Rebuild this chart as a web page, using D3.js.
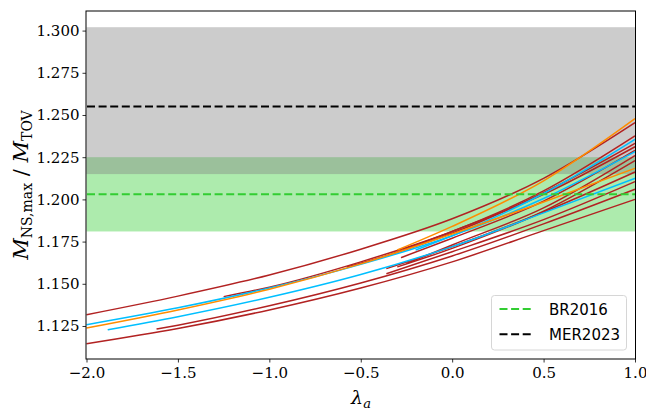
<!DOCTYPE html>
<html lang="en">
<head>
<meta charset="UTF-8">
<title>Maximum mass ratio vs lambda_a</title>
<script src="https://d3js.org/d3.v7.min.js"></script>
<style>
  body { margin: 0; background: #fff; }
  svg { display: block; }
  .tick text { font-family: "DejaVu Serif", serif; font-size: 15px; fill: #000; }
  .tick line { stroke: #000; stroke-width: 0.8px; }
</style>
</head>
<body>
<svg width="646" height="410"></svg>
<script>
// tick labels
const xTicks = [-2.0, -1.5, -1.0, -0.5, 0.0, 0.5, 1.0];
const yTicks = [1.125, 1.150, 1.175, 1.200, 1.225, 1.250, 1.275, 1.300];

// constraint bands and reference values
const greenBand = [1.181, 1.225];
const grayBand = [1.215, 1.302];
const refNames = ["BR2016", "MER2023"];
const refValues = [1.203, 1.255];
const refColors = ["#32cd32", "#000000"];

// curves as [lambda_a, M_NS,max / M_TOV]
const redCurves = [
    [[-2, 1.1317], [-1.5, 1.1427], [-1, 1.1552], [-0.5, 1.1705], [0, 1.1885], [0.5, 1.2125], [1, 1.2455]],
    [[-2, 1.1145], [-1.5, 1.1235], [-1, 1.1345], [-0.5, 1.1475], [0, 1.1630], [0.5, 1.1815], [1, 1.2000]],
    [[-1.617, 1.1232], [-1.5, 1.1255], [-1, 1.1370], [-0.5, 1.1505], [0, 1.1665], [0.5, 1.1855], [1, 1.2060]],
    [[-1.25, 1.1424], [-1, 1.1480], [-0.5, 1.1630], [0, 1.1810], [0.5, 1.2050], [1, 1.2376]],
    [[-0.575, 1.1600], [-0.5, 1.1622], [0, 1.1800], [0.5, 1.2040], [1, 1.2332]],
    [[-0.36, 1.1590], [0, 1.1720], [0.5, 1.1925], [1, 1.2162]],
    [[-0.36, 1.1560], [0, 1.1690], [0.5, 1.1880], [1, 1.2105]],
    [[-0.32, 1.1680], [0, 1.1810], [0.5, 1.2030], [1, 1.2312]],
    [[-0.28, 1.1655], [0, 1.1770], [0.5, 1.1990], [1, 1.2290]],
    [[-0.25, 1.1620], [0, 1.1730], [0.5, 1.1950], [1, 1.2260]],
    [[-0.30, 1.1600], [0, 1.1710], [0.5, 1.1930], [1, 1.2230]]
];
const blueCurves = [
    [[-2, 1.1258], [-1.5, 1.1358], [-1, 1.1475], [-0.5, 1.1615], [0, 1.1785], [0.5, 1.2005], [1, 1.2283]],
    [[-1.884, 1.1228], [-1.5, 1.1305], [-1, 1.1420], [-0.5, 1.1555], [0, 1.1720], [0.5, 1.1920], [1, 1.2125]],
    [[-0.20, 1.1700], [0, 1.1785], [0.5, 1.2035], [1, 1.2356]]
];
const orangeCurves = [
    [[-2, 1.1238], [-1.5, 1.1345], [-1, 1.1468], [-0.5, 1.1618], [0, 1.1795], [0.5, 1.1985], [1, 1.2184]],
    [[-0.30, 1.1700], [0, 1.1840], [0.5, 1.2110], [1, 1.2478]]
];

const svg = d3.select("svg");
const padLeft = 86, padRight = 635.5, padTop = 11, padBottom = 359;

const x = d3.scaleLinear().domain([-2.0, 1.0]).range([padLeft + 0.5, padRight - 0.5]);
const y = d3.scaleLinear().domain([1.10545, 1.3116]).range([padBottom, padTop]);

const plot = svg.append("g");

// bands (green first, gray on top; they overlap a little)
plot.append("rect")
    .attr("x", x(-2)).attr("width", x(1) - x(-2))
    .attr("y", y(greenBand[1])).attr("height", y(greenBand[0]) - y(greenBand[1]))
    .attr("fill", "rgb(50,205,50)").attr("fill-opacity", 0.4);
plot.append("rect")
    .attr("x", x(-2)).attr("width", x(1) - x(-2))
    .attr("y", y(grayBand[1])).attr("height", y(grayBand[0]) - y(grayBand[1]))
    .attr("fill", "rgb(128,128,128)").attr("fill-opacity", 0.4);

// curves
const line = d3.line()
    .x(d => x(d[0]))
    .y(d => y(d[1]))
    .curve(d3.curveMonotoneX);

function drawCurves(list, color) {
    plot.selectAll(null)
        .data(list)
        .enter()
        .append("path")
        .attr("d", line)
        .attr("fill", "none")
        .attr("stroke", color)
        .attr("stroke-width", 1.5);
}
drawCurves(redCurves, "#b22222");
drawCurves(blueCurves, "#00bfff");
drawCurves(orangeCurves, "#ff8c00");

// reference lines
plot.selectAll(null)
    .data(refValues)
    .enter()
    .append("line")
    .attr("x1", padLeft + 1).attr("x2", padRight)
    .attr("y1", d => y(d)).attr("y2", d => y(d))
    .attr("stroke", (d, i) => refColors[i])
    .attr("stroke-width", 2)
    .attr("stroke-dasharray", "8,3.6");

// axes
const xAxis = svg.append("g")
    .attr("transform", `translate(0,${padBottom})`)
    .call(d3.axisBottom(x).tickValues(xTicks).tickFormat(d3.format(".1f")).tickSize(3.5).tickPadding(5));
const yAxis = svg.append("g")
    .attr("transform", `translate(${padLeft},0)`)
    .call(d3.axisLeft(y).tickValues(yTicks).tickFormat(d3.format(".3f")).tickSize(3.5).tickPadding(3));
xAxis.select(".domain").remove();
yAxis.select(".domain").remove();

// frame
svg.append("rect")
    .attr("x", padLeft).attr("y", padTop)
    .attr("width", padRight - padLeft).attr("height", padBottom - padTop)
    .attr("fill", "none").attr("stroke", "#000").attr("stroke-width", 1);

// axis labels
const xl = svg.append("text")
    .attr("x", 361).attr("y", 404)
    .attr("text-anchor", "middle")
    .attr("font-family", "DejaVu Serif")
    .attr("font-size", 19);
xl.append("tspan").attr("font-style", "italic").text("λ");
xl.append("tspan").attr("font-style", "italic").attr("font-size", 13).attr("dy", 4).text("a");

const yl = svg.append("text")
    .attr("transform", "translate(28,185) rotate(-90)")
    .attr("text-anchor", "middle")
    .attr("font-family", "DejaVu Serif")
    .attr("font-size", 21);
yl.append("tspan").attr("font-style", "italic").text("M");
yl.append("tspan").attr("font-size", 14).attr("dy", 4).text("NS,max");
yl.append("tspan").attr("dy", -4).text(" / ");
yl.append("tspan").attr("font-style", "italic").text("M");
yl.append("tspan").attr("font-size", 14).attr("dy", 4).text("TOV");

// legend
const legend = svg.append("g");
legend.append("rect")
    .attr("x", 491.5).attr("y", 295.5)
    .attr("width", 135).attr("height", 54.5)
    .attr("rx", 3)
    .attr("fill", "#fff").attr("fill-opacity", 0.8)
    .attr("stroke", "#d6d6d6").attr("stroke-width", 1);
const entries = legend.selectAll(null)
    .data(refNames)
    .enter()
    .append("g")
    .attr("transform", (d, i) => `translate(0,${309 + i * 25.3})`);
entries.append("line")
    .attr("x1", 499.5).attr("x2", 531.5)
    .attr("stroke", (d, i) => refColors[i])
    .attr("stroke-width", 2)
    .attr("stroke-dasharray", "8,3.6");
entries.append("text")
    .attr("x", 549).attr("y", 5.5)
    .attr("font-family", "DejaVu Sans")
    .attr("font-size", 15)
    .text(d => d);
</script>
</body>
</html>
